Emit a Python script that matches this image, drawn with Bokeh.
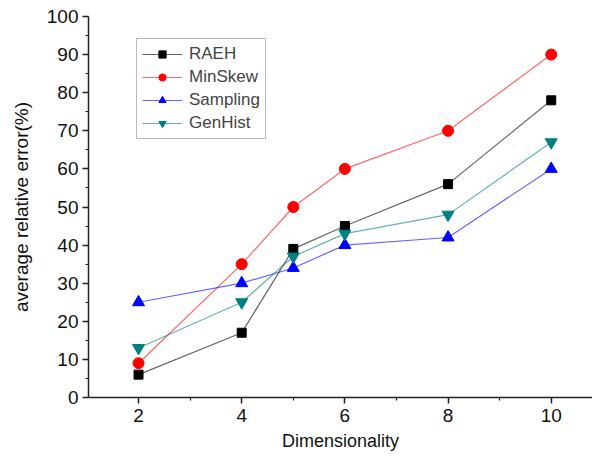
from bokeh.plotting import figure
from bokeh.models import Range1d, FixedTicker, Legend, LegendItem
from bokeh.embed import file_html
from bokeh.resources import INLINE

dims = [2, 4, 5, 6, 8, 10]
raeh = [6, 17, 39, 45, 56, 78]
minskew = [9, 35, 50, 60, 70, 90]
sampling = [25, 30, 34, 40, 42, 60]
genhist = [13, 25, 37, 43, 48, 67]

series = [
    ("RAEH", raeh, "#000000", "square", 9),
    ("MinSkew", minskew, "#ff0000", "circle", 11),
    ("Sampling", sampling, "#0000ff", "triangle", 12),
    ("GenHist", genhist, "#007f7f", "inverted_triangle", 12),
]

FONT = "Liberation Sans"

p = figure(width=592, height=458, output_backend="svg", toolbar_location=None,
           x_range=Range1d(1.03, 10.8), y_range=Range1d(0, 100),
           min_border_left=88, min_border_right=0, min_border_top=16, min_border_bottom=61)
p.outline_line_color = None
p.grid.visible = False

items = []
for name, ys, col, mk, sz in series:
    r1 = p.line(dims, ys, line_color=col, line_width=1.2, line_alpha=0.6)
    r2 = p.scatter(dims, ys, marker=mk, size=sz, fill_color=col, line_color=col)
    items.append(LegendItem(label=name, renderers=[r1, r2]))

legend = Legend(items=items, location=(48, 258), border_line_color="#777777",
                border_line_width=1, label_text_font=FONT, label_text_font_size="17px",
                label_height=18, glyph_width=40, glyph_height=18, spacing=3, padding=5,
                margin=0, label_standoff=7, background_fill_alpha=1)
p.add_layout(legend, "center")

p.xaxis.ticker = FixedTicker(ticks=[2, 4, 6, 8, 10], minor_ticks=[3, 5, 7, 9])
p.yaxis.ticker = FixedTicker(ticks=list(range(0, 101, 10)), minor_ticks=list(range(5, 100, 10)))

for ax in (p.xaxis[0], p.yaxis[0]):
    ax.axis_line_width = 1.5
    ax.axis_line_color = "#222222"
    ax.major_tick_line_color = "#222222"
    ax.minor_tick_line_color = "#222222"
    ax.major_tick_line_width = 1.5
    ax.minor_tick_line_width = 1.2
    ax.major_tick_out = 6
    ax.major_tick_in = 0
    ax.minor_tick_out = 3
    ax.minor_tick_in = 0
    ax.major_label_text_font = FONT
    ax.major_label_text_font_size = "19px"
    ax.major_label_text_color = "#111111"
    ax.axis_label_text_font = FONT
    ax.axis_label_text_font_size = "18px"
    ax.axis_label_text_font_style = "normal"
    ax.axis_label_text_color = "#111111"

p.xaxis.axis_label = "Dimensionality"
p.yaxis.axis_label = "average relative error(%)"
p.yaxis.axis_label_text_font_size = "19px"
p.xaxis.major_label_standoff = 5
p.xaxis.axis_label_standoff = 6
p.yaxis.major_label_standoff = 4
p.yaxis.axis_label_standoff = 12

open("out.html", "w").write(file_html(p, INLINE))
